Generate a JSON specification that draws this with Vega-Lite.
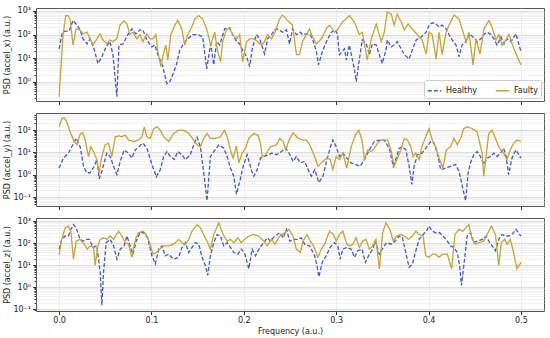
{
"$schema":"https://vega.github.io/schema/vega-lite/v6.json",
"padding":{"left":2,"top":6,"right":6,"bottom":0},
"config":{"font":"DejaVu Sans","view":{"stroke":"#555555","strokeWidth":1},
"axis":{"domain":false,"tickColor":"#333333","tickSize":3.5,"labelFontSize":8,"labelColor":"#222222","titleFontSize":8,"titleFontWeight":"normal","titleColor":"#222222","gridColor":"#e2e2e2","gridWidth":0.7,"labelPadding":2}},
"spacing":12,
"bounds":"flush",
"resolve":{"scale":{"x":"independent","y":"independent"},"legend":{"color":"independent","strokeDash":"independent"}},
"datasets":{
"xH":[{"freq":0,"psd":25},{"freq":0.0032,"psd":107},{"freq":0.0065,"psd":141},{"freq":0.0108,"psd":141},{"freq":0.0151,"psd":398},{"freq":0.0184,"psd":282},{"freq":0.0227,"psd":158},{"freq":0.0259,"psd":66},{"freq":0.0302,"psd":40},{"freq":0.0335,"psd":66},{"freq":0.0378,"psd":25},{"freq":0.0421,"psd":5.9},{"freq":0.0464,"psd":11.5},{"freq":0.0508,"psd":30},{"freq":0.0551,"psd":50},{"freq":0.0583,"psd":14},{"freq":0.0626,"psd":0.23},{"freq":0.0648,"psd":36},{"freq":0.0691,"psd":40},{"freq":0.0745,"psd":100},{"freq":0.0788,"psd":174},{"freq":0.0832,"psd":107},{"freq":0.0875,"psd":158},{"freq":0.0907,"psd":158},{"freq":0.095,"psd":59},{"freq":0.1004,"psd":30},{"freq":0.1037,"psd":36},{"freq":0.1069,"psd":14},{"freq":0.1123,"psd":4.4},{"freq":0.1166,"psd":0.83},{"freq":0.1199,"psd":1.0},{"freq":0.1231,"psd":2},{"freq":0.1274,"psd":5.9},{"freq":0.1307,"psd":22},{"freq":0.1361,"psd":50},{"freq":0.1393,"psd":66},{"freq":0.1447,"psd":100},{"freq":0.1501,"psd":100},{"freq":0.1555,"psd":79},{"freq":0.1598,"psd":3.5},{"freq":0.1641,"psd":40},{"freq":0.1674,"psd":5.2},{"freq":0.1706,"psd":50},{"freq":0.1739,"psd":36},{"freq":0.1793,"psd":174},{"freq":0.1847,"psd":191},{"freq":0.1879,"psd":100},{"freq":0.1922,"psd":50},{"freq":0.1955,"psd":40},{"freq":0.1987,"psd":22},{"freq":0.203,"psd":11.5},{"freq":0.2063,"psd":4.4},{"freq":0.2095,"psd":30},{"freq":0.2138,"psd":100},{"freq":0.2171,"psd":66},{"freq":0.2225,"psd":15},{"freq":0.2257,"psd":66},{"freq":0.23,"psd":100},{"freq":0.2333,"psd":158},{"freq":0.2365,"psd":174},{"freq":0.2419,"psd":126},{"freq":0.2462,"psd":158},{"freq":0.2495,"psd":40},{"freq":0.2527,"psd":174},{"freq":0.257,"psd":100},{"freq":0.2613,"psd":126},{"freq":0.2635,"psd":100},{"freq":0.2678,"psd":107},{"freq":0.2711,"psd":107},{"freq":0.2743,"psd":66},{"freq":0.2786,"psd":19},{"freq":0.2808,"psd":5.2},{"freq":0.2851,"psd":19},{"freq":0.2894,"psd":50},{"freq":0.2948,"psd":126},{"freq":0.2991,"psd":158},{"freq":0.3013,"psd":107},{"freq":0.3035,"psd":14},{"freq":0.3067,"psd":19},{"freq":0.3089,"psd":25},{"freq":0.311,"psd":8.5},{"freq":0.3143,"psd":36},{"freq":0.3164,"psd":14},{"freq":0.3197,"psd":3.5},{"freq":0.3218,"psd":1.0},{"freq":0.325,"psd":8.5},{"freq":0.3283,"psd":59},{"freq":0.3326,"psd":40},{"freq":0.3359,"psd":14},{"freq":0.3391,"psd":40},{"freq":0.3434,"psd":36},{"freq":0.3467,"psd":14},{"freq":0.3499,"psd":5.9},{"freq":0.3542,"psd":25},{"freq":0.3553,"psd":59},{"freq":0.3596,"psd":30},{"freq":0.3628,"psd":36},{"freq":0.3661,"psd":50},{"freq":0.3704,"psd":25},{"freq":0.3737,"psd":14},{"freq":0.379,"psd":9.3},{"freq":0.3823,"psd":22},{"freq":0.3866,"psd":59},{"freq":0.392,"psd":79},{"freq":0.3974,"psd":126},{"freq":0.4006,"psd":251},{"freq":0.4039,"psd":316},{"freq":0.4082,"psd":282},{"freq":0.4114,"psd":209},{"freq":0.4147,"psd":251},{"freq":0.419,"psd":174},{"freq":0.4222,"psd":100},{"freq":0.4255,"psd":59},{"freq":0.4298,"psd":36},{"freq":0.433,"psd":11.5},{"freq":0.4363,"psd":36},{"freq":0.4406,"psd":50},{"freq":0.4438,"psd":107},{"freq":0.4482,"psd":79},{"freq":0.4525,"psd":50},{"freq":0.4568,"psd":66},{"freq":0.46,"psd":100},{"freq":0.4633,"psd":126},{"freq":0.4676,"psd":100},{"freq":0.4708,"psd":66},{"freq":0.4741,"psd":36},{"freq":0.4784,"psd":79},{"freq":0.4816,"psd":40},{"freq":0.4849,"psd":66},{"freq":0.4892,"psd":50},{"freq":0.4946,"psd":107},{"freq":0.5,"psd":19}],
"xF":[{"freq":0,"psd":0.23},{"freq":0.0043,"psd":100},{"freq":0.0072,"psd":630},{"freq":0.0097,"psd":630},{"freq":0.0119,"psd":457},{"freq":0.0151,"psd":36},{"freq":0.0184,"psd":174},{"freq":0.0227,"psd":158},{"freq":0.0259,"psd":107},{"freq":0.0302,"psd":129},{"freq":0.0335,"psd":66},{"freq":0.0367,"psd":36},{"freq":0.041,"psd":66},{"freq":0.0443,"psd":107},{"freq":0.0475,"psd":59},{"freq":0.0518,"psd":40},{"freq":0.0551,"psd":59},{"freq":0.0583,"psd":50},{"freq":0.0626,"psd":66},{"freq":0.0659,"psd":251},{"freq":0.0702,"psd":380},{"freq":0.0734,"psd":282},{"freq":0.0767,"psd":100},{"freq":0.0799,"psd":126},{"freq":0.0842,"psd":66},{"freq":0.0875,"psd":100},{"freq":0.0907,"psd":50},{"freq":0.095,"psd":107},{"freq":0.0983,"psd":66},{"freq":0.1015,"psd":66},{"freq":0.1048,"psd":100},{"freq":0.1069,"psd":19},{"freq":0.1102,"psd":4.4},{"freq":0.1123,"psd":11.5},{"freq":0.1156,"psd":36},{"freq":0.1177,"psd":8.5},{"freq":0.121,"psd":100},{"freq":0.1253,"psd":251},{"freq":0.1285,"psd":398},{"freq":0.1328,"psd":174},{"freq":0.1361,"psd":36},{"freq":0.1393,"psd":100},{"freq":0.1436,"psd":209},{"freq":0.1469,"psd":457},{"freq":0.1512,"psd":631},{"freq":0.1555,"psd":457},{"freq":0.1598,"psd":174},{"freq":0.1641,"psd":36},{"freq":0.1685,"psd":126},{"freq":0.1717,"psd":19},{"freq":0.1749,"psd":7.1},{"freq":0.1771,"psd":50},{"freq":0.1814,"psd":174},{"freq":0.1847,"psd":174},{"freq":0.1879,"psd":100},{"freq":0.1922,"psd":66},{"freq":0.1955,"psd":100},{"freq":0.1987,"psd":7.1},{"freq":0.203,"psd":50},{"freq":0.2063,"psd":66},{"freq":0.2117,"psd":66},{"freq":0.2149,"psd":50},{"freq":0.2192,"psd":36},{"freq":0.2225,"psd":50},{"freq":0.2257,"psd":100},{"freq":0.23,"psd":66},{"freq":0.2333,"psd":112},{"freq":0.2387,"psd":457},{"freq":0.2419,"psd":676},{"freq":0.2473,"psd":398},{"freq":0.2527,"psd":251},{"freq":0.257,"psd":14},{"freq":0.2603,"psd":14},{"freq":0.2635,"psd":50},{"freq":0.2678,"psd":100},{"freq":0.2711,"psd":174},{"freq":0.2743,"psd":79},{"freq":0.2786,"psd":40},{"freq":0.284,"psd":66},{"freq":0.2894,"psd":174},{"freq":0.2927,"psd":251},{"freq":0.2981,"psd":126},{"freq":0.3013,"psd":158},{"freq":0.3067,"psd":339},{"freq":0.3143,"psd":631},{"freq":0.3197,"psd":339},{"freq":0.325,"psd":100},{"freq":0.3283,"psd":126},{"freq":0.3337,"psd":8.5},{"freq":0.338,"psd":66},{"freq":0.3434,"psd":282},{"freq":0.3488,"psd":50},{"freq":0.3521,"psd":126},{"freq":0.3553,"psd":912},{"freq":0.3596,"psd":741},{"freq":0.3628,"psd":251},{"freq":0.3661,"psd":741},{"freq":0.3704,"psd":339},{"freq":0.3737,"psd":158},{"freq":0.378,"psd":282},{"freq":0.3823,"psd":174},{"freq":0.3877,"psd":100},{"freq":0.3931,"psd":59},{"freq":0.3974,"psd":15},{"freq":0.4006,"psd":126},{"freq":0.4039,"psd":100},{"freq":0.4082,"psd":9.3},{"freq":0.4114,"psd":126},{"freq":0.4147,"psd":14},{"freq":0.419,"psd":126},{"freq":0.4222,"psd":251},{"freq":0.4276,"psd":676},{"freq":0.433,"psd":457},{"freq":0.4363,"psd":174},{"freq":0.4406,"psd":50},{"freq":0.4438,"psd":126},{"freq":0.4482,"psd":5.2},{"freq":0.4514,"psd":66},{"freq":0.4557,"psd":15},{"freq":0.46,"psd":174},{"freq":0.4654,"psd":398},{"freq":0.4687,"psd":209},{"freq":0.473,"psd":59},{"freq":0.4762,"psd":100},{"freq":0.4795,"psd":36},{"freq":0.4838,"psd":59},{"freq":0.487,"psd":100},{"freq":0.4924,"psd":25},{"freq":0.5,"psd":5.2}],
"yH":[{"freq":0,"psd":2},{"freq":0.0047,"psd":5.6},{"freq":0.0101,"psd":9.3},{"freq":0.0137,"psd":18},{"freq":0.0184,"psd":43},{"freq":0.0228,"psd":18},{"freq":0.0264,"psd":2.4},{"freq":0.03,"psd":1.23},{"freq":0.0336,"psd":1.23},{"freq":0.038,"psd":2.4},{"freq":0.0409,"psd":4.8},{"freq":0.0434,"psd":0.66},{"freq":0.0463,"psd":1.45},{"freq":0.0517,"psd":9.3},{"freq":0.0553,"psd":6.6},{"freq":0.059,"psd":2.4},{"freq":0.0626,"psd":1.02},{"freq":0.0662,"psd":4},{"freq":0.0705,"psd":13},{"freq":0.0752,"psd":9.3},{"freq":0.0788,"psd":5.6},{"freq":0.0825,"psd":13},{"freq":0.0861,"psd":18},{"freq":0.0908,"psd":26},{"freq":0.0951,"psd":15.5},{"freq":0.1005,"psd":2.9},{"freq":0.1052,"psd":0.81},{"freq":0.1096,"psd":1.7},{"freq":0.1132,"psd":6.6},{"freq":0.1168,"psd":11},{"freq":0.1204,"psd":6.6},{"freq":0.1248,"psd":4.8},{"freq":0.1284,"psd":11},{"freq":0.1331,"psd":7.9},{"freq":0.1367,"psd":4.8},{"freq":0.1421,"psd":7.9},{"freq":0.1458,"psd":22},{"freq":0.1494,"psd":48},{"freq":0.153,"psd":18},{"freq":0.1566,"psd":1.23},{"freq":0.1602,"psd":0.069},{"freq":0.1638,"psd":6.6},{"freq":0.1675,"psd":11},{"freq":0.1729,"psd":22},{"freq":0.1783,"psd":15.5},{"freq":0.1819,"psd":6.6},{"freq":0.1855,"psd":2},{"freq":0.1892,"psd":0.87},{"freq":0.192,"psd":0.135},{"freq":0.1957,"psd":0.52},{"freq":0.1993,"psd":2.4},{"freq":0.2036,"psd":7.9},{"freq":0.208,"psd":1.7},{"freq":0.2108,"psd":0.87},{"freq":0.2145,"psd":1.7},{"freq":0.2181,"psd":5.6},{"freq":0.2217,"psd":6.6},{"freq":0.2271,"psd":7.9},{"freq":0.23,"psd":9.3},{"freq":0.2354,"psd":7.9},{"freq":0.2408,"psd":11},{"freq":0.2454,"psd":15.5},{"freq":0.249,"psd":9.3},{"freq":0.2533,"psd":4},{"freq":0.2569,"psd":6.6},{"freq":0.2612,"psd":3.4},{"freq":0.2659,"psd":4},{"freq":0.2695,"psd":1.7},{"freq":0.2731,"psd":0.87},{"freq":0.2767,"psd":1.7},{"freq":0.2813,"psd":0.45},{"freq":0.2857,"psd":0.87},{"freq":0.29,"psd":4.8},{"freq":0.2939,"psd":18},{"freq":0.2964,"psd":36},{"freq":0.3,"psd":18},{"freq":0.3036,"psd":6.6},{"freq":0.3072,"psd":9.3},{"freq":0.3115,"psd":5.6},{"freq":0.3162,"psd":3.4},{"freq":0.3208,"psd":2.9},{"freq":0.3259,"psd":2.4},{"freq":0.3305,"psd":4.8},{"freq":0.3359,"psd":13},{"freq":0.3413,"psd":31},{"freq":0.3467,"psd":36},{"freq":0.3521,"psd":36},{"freq":0.3575,"psd":15.5},{"freq":0.3618,"psd":2.4},{"freq":0.3646,"psd":4.8},{"freq":0.3682,"psd":15.5},{"freq":0.3718,"psd":18},{"freq":0.3754,"psd":13},{"freq":0.379,"psd":2.4},{"freq":0.3819,"psd":0.37},{"freq":0.3844,"psd":2.4},{"freq":0.388,"psd":7.9},{"freq":0.3927,"psd":9.3},{"freq":0.397,"psd":15.5},{"freq":0.4024,"psd":31},{"freq":0.406,"psd":26},{"freq":0.4095,"psd":9.3},{"freq":0.4131,"psd":1.7},{"freq":0.4185,"psd":2},{"freq":0.4239,"psd":2.4},{"freq":0.4293,"psd":2.9},{"freq":0.4329,"psd":1.45},{"freq":0.4365,"psd":0.32},{"freq":0.4401,"psd":0.069},{"freq":0.4429,"psd":1.23},{"freq":0.4454,"psd":3.4},{"freq":0.449,"psd":7.9},{"freq":0.4526,"psd":11},{"freq":0.4562,"psd":6.6},{"freq":0.4598,"psd":2.9},{"freq":0.4634,"psd":5.6},{"freq":0.467,"psd":6.6},{"freq":0.4706,"psd":9.3},{"freq":0.4742,"psd":6.6},{"freq":0.4778,"psd":9.3},{"freq":0.4813,"psd":15.5},{"freq":0.4839,"psd":6.6},{"freq":0.4867,"psd":1.02},{"freq":0.4903,"psd":5.6},{"freq":0.4946,"psd":13},{"freq":0.5,"psd":5.6}],
"yF":[{"freq":0,"psd":141},{"freq":0.0029,"psd":316},{"freq":0.0054,"psd":363},{"freq":0.0083,"psd":234},{"freq":0.0119,"psd":85},{"freq":0.0156,"psd":36},{"freq":0.0192,"psd":22},{"freq":0.0228,"psd":66},{"freq":0.0257,"psd":76},{"freq":0.0282,"psd":36},{"freq":0.0318,"psd":6.6},{"freq":0.0344,"psd":18},{"freq":0.0373,"psd":11},{"freq":0.0409,"psd":4.8},{"freq":0.0434,"psd":1.23},{"freq":0.0463,"psd":6.6},{"freq":0.0499,"psd":22},{"freq":0.0535,"psd":26},{"freq":0.0571,"psd":6.6},{"freq":0.0608,"psd":51},{"freq":0.0644,"psd":55},{"freq":0.068,"psd":51},{"freq":0.0716,"psd":60},{"freq":0.0752,"psd":36},{"freq":0.0807,"psd":31},{"freq":0.0861,"psd":36},{"freq":0.0897,"psd":51},{"freq":0.0922,"psd":141},{"freq":0.0951,"psd":51},{"freq":0.0987,"psd":43},{"freq":0.1024,"psd":117},{"freq":0.106,"psd":141},{"freq":0.1096,"psd":100},{"freq":0.1132,"psd":51},{"freq":0.1186,"psd":31},{"freq":0.124,"psd":71},{"freq":0.1295,"psd":100},{"freq":0.1349,"psd":100},{"freq":0.1403,"psd":71},{"freq":0.1458,"psd":36},{"freq":0.1494,"psd":22},{"freq":0.153,"psd":18},{"freq":0.1566,"psd":43},{"freq":0.1602,"psd":71},{"freq":0.1638,"psd":43},{"freq":0.1693,"psd":43},{"freq":0.1747,"psd":51},{"freq":0.179,"psd":100},{"freq":0.1819,"psd":51},{"freq":0.1855,"psd":13},{"freq":0.1884,"psd":5.6},{"freq":0.192,"psd":19.5},{"freq":0.1946,"psd":3.4},{"freq":0.1982,"psd":9.3},{"freq":0.2018,"psd":15.5},{"freq":0.2054,"psd":43},{"freq":0.2108,"psd":71},{"freq":0.2152,"psd":60},{"freq":0.2181,"psd":26},{"freq":0.2199,"psd":6.6},{"freq":0.2235,"psd":7.9},{"freq":0.2289,"psd":18},{"freq":0.2354,"psd":22},{"freq":0.239,"psd":43},{"freq":0.2426,"psd":31},{"freq":0.2454,"psd":13},{"freq":0.249,"psd":36},{"freq":0.2533,"psd":76},{"freq":0.2587,"psd":43},{"freq":0.2641,"psd":36},{"freq":0.2677,"psd":36},{"freq":0.2713,"psd":22},{"freq":0.2767,"psd":6.6},{"freq":0.2803,"psd":2.4},{"freq":0.2857,"psd":4},{"freq":0.29,"psd":5.6},{"freq":0.2935,"psd":4.8},{"freq":0.2964,"psd":1.7},{"freq":0.3,"psd":6.6},{"freq":0.3036,"psd":4.8},{"freq":0.3072,"psd":9.3},{"freq":0.3115,"psd":2},{"freq":0.3162,"psd":18},{"freq":0.3208,"psd":60},{"freq":0.3244,"psd":100},{"freq":0.328,"psd":36},{"freq":0.3305,"psd":4.8},{"freq":0.3341,"psd":13},{"freq":0.3377,"psd":11},{"freq":0.3413,"psd":15.5},{"freq":0.3449,"psd":26},{"freq":0.3485,"psd":36},{"freq":0.3521,"psd":36},{"freq":0.3557,"psd":36},{"freq":0.3593,"psd":13},{"freq":0.3628,"psd":2.4},{"freq":0.3664,"psd":5.6},{"freq":0.37,"psd":13},{"freq":0.3736,"psd":43},{"freq":0.3772,"psd":36},{"freq":0.3808,"psd":18},{"freq":0.3833,"psd":6.6},{"freq":0.3862,"psd":9.3},{"freq":0.3898,"psd":4.8},{"freq":0.3927,"psd":18},{"freq":0.397,"psd":51},{"freq":0.4005,"psd":117},{"freq":0.4041,"psd":36},{"freq":0.4077,"psd":18},{"freq":0.412,"psd":4.8},{"freq":0.4156,"psd":2},{"freq":0.4192,"psd":13},{"freq":0.4239,"psd":18},{"freq":0.4275,"psd":43},{"freq":0.4311,"psd":22},{"freq":0.4347,"psd":43},{"freq":0.4382,"psd":117},{"freq":0.4418,"psd":141},{"freq":0.4472,"psd":117},{"freq":0.4526,"psd":85},{"freq":0.458,"psd":9.3},{"freq":0.4598,"psd":0.87},{"freq":0.4616,"psd":4},{"freq":0.4652,"psd":71},{"freq":0.4688,"psd":100},{"freq":0.4724,"psd":43},{"freq":0.476,"psd":18},{"freq":0.4813,"psd":9.3},{"freq":0.4849,"psd":4.8},{"freq":0.4885,"psd":13},{"freq":0.4921,"psd":26},{"freq":0.4957,"psd":36},{"freq":0.5,"psd":31}],
"zH":[{"freq":0,"psd":54},{"freq":0.0029,"psd":151},{"freq":0.0065,"psd":214},{"freq":0.0101,"psd":214},{"freq":0.0127,"psd":427},{"freq":0.0156,"psd":708},{"freq":0.0184,"psd":501},{"freq":0.0228,"psd":151},{"freq":0.0264,"psd":126},{"freq":0.0293,"psd":151},{"freq":0.0329,"psd":151},{"freq":0.0365,"psd":65},{"freq":0.0409,"psd":76},{"freq":0.0445,"psd":4.9},{"freq":0.0463,"psd":0.155},{"freq":0.0481,"psd":4.9},{"freq":0.051,"psd":107},{"freq":0.0553,"psd":151},{"freq":0.059,"psd":76},{"freq":0.0626,"psd":19},{"freq":0.0662,"psd":54},{"freq":0.0705,"psd":76},{"freq":0.0734,"psd":214},{"freq":0.077,"psd":76},{"freq":0.0799,"psd":32},{"freq":0.0835,"psd":126},{"freq":0.0879,"psd":316},{"freq":0.0915,"psd":302},{"freq":0.0958,"psd":178},{"freq":0.1005,"psd":27},{"freq":0.1042,"psd":11.5},{"freq":0.1078,"psd":54},{"freq":0.1114,"psd":76},{"freq":0.115,"psd":27},{"freq":0.1186,"psd":32},{"freq":0.124,"psd":19},{"freq":0.1295,"psd":23},{"freq":0.1331,"psd":65},{"freq":0.1367,"psd":107},{"freq":0.1403,"psd":38},{"freq":0.1439,"psd":65},{"freq":0.1476,"psd":107},{"freq":0.1512,"psd":91},{"freq":0.1548,"psd":23},{"freq":0.1584,"psd":9.8},{"freq":0.1609,"psd":3.5},{"freq":0.1638,"psd":27},{"freq":0.1675,"psd":107},{"freq":0.1711,"psd":251},{"freq":0.1747,"psd":214},{"freq":0.1783,"psd":76},{"freq":0.1819,"psd":107},{"freq":0.1855,"psd":65},{"freq":0.1892,"psd":38},{"freq":0.1935,"psd":32},{"freq":0.1971,"psd":54},{"freq":0.2007,"psd":38},{"freq":0.2054,"psd":6.9},{"freq":0.209,"psd":54},{"freq":0.2127,"psd":27},{"freq":0.2174,"psd":65},{"freq":0.2217,"psd":107},{"freq":0.2253,"psd":178},{"freq":0.2289,"psd":126},{"freq":0.2336,"psd":214},{"freq":0.239,"psd":302},{"freq":0.2426,"psd":178},{"freq":0.2462,"psd":427},{"freq":0.2497,"psd":126},{"freq":0.2533,"psd":151},{"freq":0.2587,"psd":151},{"freq":0.2623,"psd":178},{"freq":0.2659,"psd":91},{"freq":0.2713,"psd":76},{"freq":0.2767,"psd":27},{"freq":0.2792,"psd":9.8},{"freq":0.2813,"psd":3},{"freq":0.2849,"psd":13.5},{"freq":0.2892,"psd":27},{"freq":0.2935,"psd":65},{"freq":0.2982,"psd":107},{"freq":0.3018,"psd":76},{"freq":0.3043,"psd":19},{"freq":0.3072,"psd":54},{"freq":0.3115,"psd":65},{"freq":0.3162,"psd":54},{"freq":0.3198,"psd":23},{"freq":0.3234,"psd":46},{"freq":0.328,"psd":54},{"freq":0.3316,"psd":13.5},{"freq":0.3359,"psd":32},{"freq":0.3395,"psd":54},{"freq":0.3424,"psd":126},{"freq":0.3467,"psd":32},{"freq":0.351,"psd":65},{"freq":0.3546,"psd":107},{"freq":0.3593,"psd":91},{"freq":0.3639,"psd":126},{"freq":0.3682,"psd":214},{"freq":0.3718,"psd":178},{"freq":0.3761,"psd":27},{"freq":0.379,"psd":8.1},{"freq":0.3826,"psd":11.5},{"freq":0.3862,"psd":46},{"freq":0.3898,"psd":151},{"freq":0.3941,"psd":251},{"freq":0.3977,"psd":355},{"freq":0.4005,"psd":603},{"freq":0.4041,"psd":355},{"freq":0.4077,"psd":302},{"freq":0.412,"psd":302},{"freq":0.4156,"psd":214},{"freq":0.4203,"psd":126},{"freq":0.4239,"psd":76},{"freq":0.4275,"psd":65},{"freq":0.4311,"psd":38},{"freq":0.4336,"psd":9.8},{"freq":0.4357,"psd":1.23},{"freq":0.4382,"psd":9.8},{"freq":0.4418,"psd":214},{"freq":0.4454,"psd":302},{"freq":0.449,"psd":107},{"freq":0.4526,"psd":126},{"freq":0.458,"psd":151},{"freq":0.4623,"psd":214},{"freq":0.4652,"psd":126},{"freq":0.4688,"psd":76},{"freq":0.4724,"psd":46},{"freq":0.476,"psd":151},{"freq":0.4795,"psd":251},{"freq":0.4831,"psd":214},{"freq":0.4867,"psd":214},{"freq":0.4903,"psd":251},{"freq":0.4946,"psd":427},{"freq":0.5,"psd":214}],
"zF":[{"freq":0,"psd":29},{"freq":0.0029,"psd":151},{"freq":0.0065,"psd":501},{"freq":0.0101,"psd":603},{"freq":0.0127,"psd":355},{"freq":0.0156,"psd":19},{"freq":0.0184,"psd":126},{"freq":0.0228,"psd":151},{"freq":0.0271,"psd":91},{"freq":0.0307,"psd":54},{"freq":0.0336,"psd":76},{"freq":0.0373,"psd":65},{"freq":0.0391,"psd":9.8},{"freq":0.0416,"psd":65},{"freq":0.0445,"psd":151},{"freq":0.0481,"psd":178},{"freq":0.0517,"psd":151},{"freq":0.0553,"psd":214},{"freq":0.059,"psd":151},{"freq":0.0644,"psd":355},{"freq":0.068,"psd":214},{"freq":0.0716,"psd":107},{"freq":0.0752,"psd":91},{"freq":0.0788,"psd":23},{"freq":0.0825,"psd":151},{"freq":0.0861,"psd":302},{"freq":0.0908,"psd":355},{"freq":0.0944,"psd":251},{"freq":0.098,"psd":107},{"freq":0.1016,"psd":32},{"freq":0.1052,"psd":38},{"freq":0.1089,"psd":54},{"freq":0.1132,"psd":76},{"freq":0.1186,"psd":76},{"freq":0.124,"psd":91},{"freq":0.1295,"psd":151},{"freq":0.1331,"psd":107},{"freq":0.1367,"psd":91},{"freq":0.1403,"psd":151},{"freq":0.1439,"psd":355},{"freq":0.1494,"psd":708},{"freq":0.153,"psd":501},{"freq":0.1573,"psd":214},{"freq":0.1609,"psd":107},{"freq":0.1638,"psd":54},{"freq":0.1675,"psd":251},{"freq":0.1729,"psd":851},{"freq":0.1776,"psd":251},{"freq":0.1819,"psd":126},{"freq":0.1855,"psd":151},{"freq":0.1892,"psd":107},{"freq":0.1935,"psd":178},{"freq":0.1971,"psd":107},{"freq":0.2007,"psd":151},{"freq":0.2054,"psd":214},{"freq":0.2108,"psd":251},{"freq":0.2163,"psd":214},{"freq":0.2217,"psd":126},{"freq":0.2253,"psd":76},{"freq":0.2297,"psd":151},{"freq":0.2336,"psd":91},{"freq":0.239,"psd":214},{"freq":0.2444,"psd":302},{"freq":0.249,"psd":427},{"freq":0.2533,"psd":214},{"freq":0.2569,"psd":54},{"freq":0.2612,"psd":38},{"freq":0.2641,"psd":126},{"freq":0.2684,"psd":251},{"freq":0.272,"psd":126},{"freq":0.2756,"psd":76},{"freq":0.2803,"psd":23},{"freq":0.2839,"psd":54},{"freq":0.2874,"psd":91},{"freq":0.2928,"psd":355},{"freq":0.2971,"psd":251},{"freq":0.3,"psd":126},{"freq":0.3036,"psd":251},{"freq":0.3072,"psd":355},{"freq":0.3115,"psd":91},{"freq":0.3151,"psd":76},{"freq":0.318,"psd":91},{"freq":0.3216,"psd":178},{"freq":0.3251,"psd":65},{"freq":0.3287,"psd":126},{"freq":0.3323,"psd":151},{"freq":0.3359,"psd":54},{"freq":0.3395,"psd":76},{"freq":0.3431,"psd":151},{"freq":0.3467,"psd":6.9},{"freq":0.3503,"psd":302},{"freq":0.3539,"psd":851},{"freq":0.3582,"psd":427},{"freq":0.3618,"psd":126},{"freq":0.3654,"psd":214},{"freq":0.37,"psd":251},{"freq":0.3736,"psd":214},{"freq":0.3783,"psd":151},{"freq":0.3826,"psd":214},{"freq":0.3862,"psd":355},{"freq":0.3898,"psd":251},{"freq":0.3941,"psd":214},{"freq":0.397,"psd":27},{"freq":0.4005,"psd":23},{"freq":0.4041,"psd":32},{"freq":0.4077,"psd":32},{"freq":0.4113,"psd":23},{"freq":0.4149,"psd":32},{"freq":0.4203,"psd":32},{"freq":0.425,"psd":6.9},{"freq":0.4286,"psd":251},{"freq":0.4329,"psd":427},{"freq":0.4372,"psd":355},{"freq":0.4401,"psd":501},{"freq":0.4436,"psd":708},{"freq":0.4472,"psd":151},{"freq":0.4508,"psd":91},{"freq":0.4544,"psd":107},{"freq":0.4598,"psd":126},{"freq":0.4645,"psd":302},{"freq":0.4681,"psd":603},{"freq":0.4724,"psd":251},{"freq":0.476,"psd":9.8},{"freq":0.4788,"psd":107},{"freq":0.4824,"psd":151},{"freq":0.4849,"psd":91},{"freq":0.4885,"psd":151},{"freq":0.4921,"psd":38},{"freq":0.4957,"psd":6.9},{"freq":0.5,"psd":13.5}]
},
"vconcat":[
{"width":508,"height":93,
"layer":[
{"data":{"name":"xH"},"mark":{"type":"line","strokeWidth":1.3,"clip":true},
"encoding":{
"x":{"field":"freq","type":"quantitative","scale":{"domain":[-0.025,0.525],"nice":false,"zero":false},"axis":{"values":[0,0.1,0.2,0.3,0.4,0.5],"labels":false,"title":null}},
"y":{"field":"psd","type":"quantitative","scale":{"type":"log","domain":[0.152,1340],"nice":false},"axis":{"title":"PSD (accel_x) (a.u.)","minExtent":22,"maxExtent":22,"titlePadding":3,"values":[0.2,0.3,0.4,0.5,0.6,0.7,0.8,0.9,1,2,3,4,5,6,7,8,9,10,20,30,40,50,60,70,80,90,100,200,300,400,500,600,700,800,900,1000],"labelExpr":"datum.value == 1000 ? '10³' : datum.value == 100 ? '10²' : datum.value == 10 ? '10¹' : datum.value == 1 ? '10⁰' : ''","gridColor":{"condition":{"test":"datum.value == 1 || datum.value == 10 || datum.value == 100 || datum.value == 1000","value":"#d0d0d0"},"value":"#ececec"},"tickSize":{"condition":{"test":"datum.value == 1 || datum.value == 10 || datum.value == 100 || datum.value == 1000","value":3.5},"value":2}}},
"color":{"datum":"Healthy","type":"nominal","scale":{"domain":["Healthy","Faulty"],"range":["#4457c4","#c4a436"]},"legend":{"title":null,"orient":"bottom-right","direction":"horizontal","offset":3,"fillColor":"white","strokeColor":"#cccccc","cornerRadius":2,"padding":3,"symbolType":"stroke","symbolSize":180,"symbolStrokeWidth":1.5,"labelFontSize":8,"labelColor":"#222222","columnPadding":14}},
"strokeDash":{"datum":"Healthy","type":"nominal","scale":{"domain":["Healthy","Faulty"],"range":[[4,2],[1,0]]},"legend":{"title":null,"orient":"bottom-right","direction":"horizontal","offset":3,"fillColor":"white","strokeColor":"#cccccc","cornerRadius":2,"padding":3,"symbolType":"stroke","symbolSize":180,"symbolStrokeWidth":1.5,"labelFontSize":8,"labelColor":"#222222","columnPadding":14}}}},
{"data":{"name":"xF"},"mark":{"type":"line","strokeWidth":1.3,"clip":true},
"encoding":{"x":{"field":"freq","type":"quantitative"},"y":{"field":"psd","type":"quantitative"},
"color":{"datum":"Faulty","type":"nominal"},"strokeDash":{"datum":"Faulty","type":"nominal"}}}
]},
{"width":508,"height":93,
"layer":[
{"data":{"name":"yH"},"mark":{"type":"line","strokeWidth":1.3,"clip":true},
"encoding":{
"x":{"field":"freq","type":"quantitative","scale":{"domain":[-0.025,0.525],"nice":false,"zero":false},"axis":{"values":[0,0.1,0.2,0.3,0.4,0.5],"labels":false,"title":null}},
"y":{"field":"psd","type":"quantitative","scale":{"type":"log","domain":[0.0399,586],"nice":false},"axis":{"title":"PSD (accel_y) (a.u.)","minExtent":22,"maxExtent":22,"titlePadding":3,"values":[0.05,0.06,0.07,0.08,0.09,0.1,0.2,0.3,0.4,0.5,0.6,0.7,0.8,0.9,1,2,3,4,5,6,7,8,9,10,20,30,40,50,60,70,80,90,100,200,300,400,500],"labelExpr":"datum.value == 100 ? '10²' : datum.value == 10 ? '10¹' : datum.value == 1 ? '10⁰' : datum.value == 0.1 ? '10⁻¹' : ''","gridColor":{"condition":{"test":"datum.value == 0.1 || datum.value == 1 || datum.value == 10 || datum.value == 100","value":"#d0d0d0"},"value":"#ececec"},"tickSize":{"condition":{"test":"datum.value == 0.1 || datum.value == 1 || datum.value == 10 || datum.value == 100","value":3.5},"value":2}}},
"color":{"datum":"Healthy","type":"nominal","scale":{"domain":["Healthy","Faulty"],"range":["#4457c4","#c4a436"]},"legend":null},
"strokeDash":{"datum":"Healthy","type":"nominal","scale":{"domain":["Healthy","Faulty"],"range":[[4,2],[1,0]]},"legend":null}}},
{"data":{"name":"yF"},"mark":{"type":"line","strokeWidth":1.3,"clip":true},
"encoding":{"x":{"field":"freq","type":"quantitative"},"y":{"field":"psd","type":"quantitative"},
"color":{"datum":"Faulty","type":"nominal","legend":null},"strokeDash":{"datum":"Faulty","type":"nominal","legend":null}}}
]},
{"width":508,"height":93,
"layer":[
{"data":{"name":"zH"},"mark":{"type":"line","strokeWidth":1.3,"clip":true},
"encoding":{
"x":{"field":"freq","type":"quantitative","scale":{"domain":[-0.025,0.525],"nice":false,"zero":false},"axis":{"values":[0,0.1,0.2,0.3,0.4,0.5],"format":".1f","title":"Frequency (a.u.)","titlePadding":3}},
"y":{"field":"psd","type":"quantitative","scale":{"type":"log","domain":[0.084,1410],"nice":false},"axis":{"title":"PSD (accel_z) (a.u.)","minExtent":22,"maxExtent":22,"titlePadding":3,"values":[0.09,0.1,0.2,0.3,0.4,0.5,0.6,0.7,0.8,0.9,1,2,3,4,5,6,7,8,9,10,20,30,40,50,60,70,80,90,100,200,300,400,500,600,700,800,900,1000],"labelExpr":"datum.value == 1000 ? '10³' : datum.value == 100 ? '10²' : datum.value == 10 ? '10¹' : datum.value == 1 ? '10⁰' : datum.value == 0.1 ? '10⁻¹' : ''","gridColor":{"condition":{"test":"datum.value == 0.1 || datum.value == 1 || datum.value == 10 || datum.value == 100 || datum.value == 1000","value":"#d0d0d0"},"value":"#ececec"},"tickSize":{"condition":{"test":"datum.value == 0.1 || datum.value == 1 || datum.value == 10 || datum.value == 100 || datum.value == 1000","value":3.5},"value":2}}},
"color":{"datum":"Healthy","type":"nominal","scale":{"domain":["Healthy","Faulty"],"range":["#4457c4","#c4a436"]},"legend":null},
"strokeDash":{"datum":"Healthy","type":"nominal","scale":{"domain":["Healthy","Faulty"],"range":[[4,2],[1,0]]},"legend":null}}},
{"data":{"name":"zF"},"mark":{"type":"line","strokeWidth":1.3,"clip":true},
"encoding":{"x":{"field":"freq","type":"quantitative"},"y":{"field":"psd","type":"quantitative"},
"color":{"datum":"Faulty","type":"nominal","legend":null},"strokeDash":{"datum":"Faulty","type":"nominal","legend":null}}}
]}
]
}
